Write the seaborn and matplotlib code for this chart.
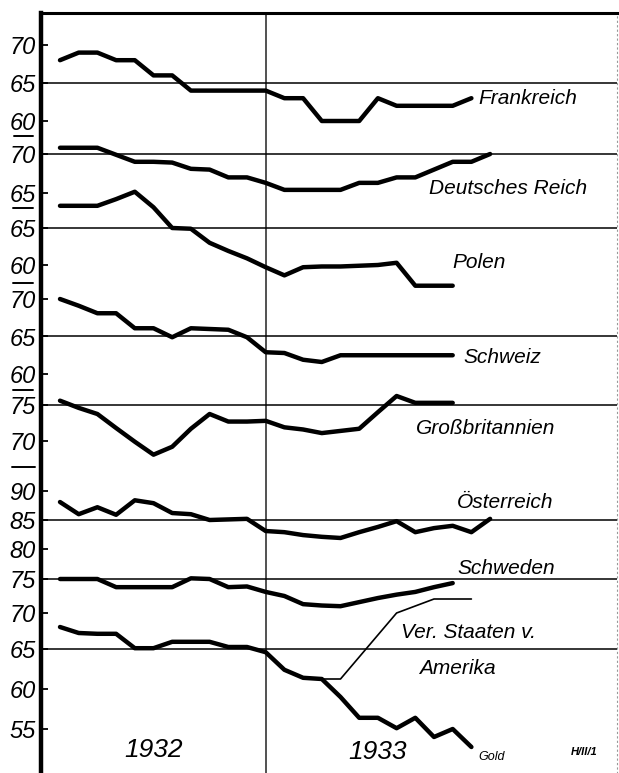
import numpy as np
import pandas as pd
import matplotlib
matplotlib.use("Agg")
import matplotlib.pyplot as plt
import seaborn as sns
from matplotlib import font_manager
from matplotlib.lines import Line2D

# ---------------- data (monthly index: 0 = Jan 1932 ... 23 = Dec 1933) -------------
france_x = list(range(23))
france_y = [68, 69, 69, 68, 68, 66, 66, 64, 64, 64, 64, 64, 63, 63, 60, 60, 60, 63, 62, 62, 62, 62, 63]

germany_x = list(range(24))
germany_y = [70.8, 70.8, 70.8, 69.9, 69, 69, 68.9, 68.1, 68, 67, 67, 66.3, 65.4, 65.4, 65.4, 65.4,
             66.3, 66.3, 67, 67, 68, 69, 69, 70]

poland_x = list(range(22))
poland_y = [68, 68, 68, 68.9, 69.9, 67.8, 65, 64.9, 63, 61.9, 60.9, 59.7, 58.6, 59.7, 59.8, 59.8,
            59.9, 60, 60.3, 57.2, 57.2, 57.2]

swiss_x = list(range(22))
swiss_y = [70, 69.1, 68.1, 68.1, 66.1, 66.1, 64.9, 66.1, 66, 65.9, 64.9, 62.9, 62.8, 61.9, 61.6, 62.5,
           62.5, 62.5, 62.5, 62.5, 62.5, 62.5]

gb_x = list(range(22))
gb_y = [75.6, 74.6, 73.75, 71.8, 69.9, 68.1, 69.2, 71.7, 73.75, 72.7, 72.7, 72.8, 71.9, 71.6, 71.1, 71.4,
        71.7, 74, 76.25, 75.3, 75.3, 75.3]

austria_x = list(range(24))
austria_y = [88.1, 86, 87.2, 85.9, 88.4, 87.9, 86.2, 86, 85, 85.1, 85.2, 83.1, 82.9, 82.4, 82.1, 81.9,
             82.9, 83.8, 84.8, 82.9, 83.6, 84, 82.9, 85.2]

sweden_x = list(range(22))
sweden_y = [75, 75, 75, 73.8, 73.8, 73.8, 73.8, 75.1, 75, 73.8, 73.9, 73.1, 72.5, 71.3, 71.1, 71,
            71.6, 72.2, 72.7, 73.1, 73.8, 74.4]

usa_gold_x = list(range(23))
usa_gold_y = [67.75, 67, 66.9, 66.9, 65.1, 65.1, 65.9, 65.9, 65.9, 65.25, 65.25, 64.6, 62.4, 61.4, 61.25,
              59, 56.4, 56.4, 55.1, 56.4, 54, 55, 52.75]

usa_paper_x = [14, 15, 18, 20, 22]
usa_paper_y = [61.25, 61.25, 69.5, 71.25, 71.25]

# ---------------- style ----------------
sns.set_theme(style="white")
available = {f.name for f in font_manager.fontManager.ttflist}
FONT = "DejaVu Sans"
for cand in ["Liberation Sans Narrow", "DejaVu Sans Condensed", "Liberation Sans"]:
    if cand in available:
        FONT = cand
        break
plt.rcParams["font.family"] = [FONT, "DejaVu Sans"]

W, H = 619, 773
fig = plt.figure(figsize=(W / 100, H / 100), dpi=100)
fig.patch.set_facecolor("white")

AX_L, AX_R, AX_T, AX_B = 41, 617, 13, 773
X0_PX, DX_PX = 60, 18.7
XLIM = ((AX_L - X0_PX) / DX_PX, (AX_R - X0_PX) / DX_PX)
RECT = [AX_L / W, 1 - AX_B / H, (AX_R - AX_L) / W, (AX_B - AX_T) / H]


def make_panel(ref, ticks, refline):
    (v1, p1), (v2, p2) = ref
    s = (v1 - v2) / (p2 - p1)
    top = v1 + (p1 - AX_T) * s
    bot = v1 - (AX_B - p1) * s
    ax = fig.add_axes(RECT)
    ax.set_xlim(*XLIM)
    ax.set_ylim(bot, top)
    ax.patch.set_alpha(0)
    for sp in ax.spines.values():
        sp.set_visible(False)
    ax.set_xticks([])
    ax.set_yticks(ticks, [str(t) for t in ticks])
    ax.tick_params(axis="y", left=True, direction="in", length=5, width=1.3,
                   labelsize=17, pad=4, colors="black")
    for lab in ax.get_yticklabels():
        lab.set_fontstyle("italic")
    ax.set_xlabel("")
    ax.set_ylabel("")
    ax.grid(False)
    ax.axhline(refline, color="black", lw=1.1, zorder=1)
    return ax


# base frame
base = fig.add_axes(RECT)
base.set_xlim(*XLIM)
base.set_ylim(0, 1)
base.set_xticks([])
base.set_yticks([])
base.patch.set_alpha(0)
base.spines["left"].set_linewidth(3.2)
base.spines["top"].set_linewidth(2.2)
base.spines["bottom"].set_visible(False)
base.spines["right"].set_linewidth(0.8)
base.spines["right"].set_linestyle((0, (1, 3)))
base.spines["right"].set_color("#999999")
for k in ["left", "top"]:
    base.spines[k].set_color("black")
base.axvline(11, color="#333333", lw=1.2)

LW = 3.2
panels = [
    (((70, 45), (60, 121)), [70, 65, 60], 65, france_x, france_y),
    (((70, 154), (65, 193)), [70, 65], 70, germany_x, germany_y),
    (((65, 228), (60, 265)), [65, 60], 65, poland_x, poland_y),
    (((70, 299), (60, 374)), [70, 65, 60], 65, swiss_x, swiss_y),
    (((75, 405), (70, 441)), [75, 70], 75, gb_x, gb_y),
    (((90, 491), (80, 549)), [90, 85, 80], 85, austria_x, austria_y),
    (((75, 579), (70, 613)), [75, 70], 75, sweden_x, sweden_y),
    (((65, 649), (55, 729)), [65, 60, 55], 65, usa_gold_x, usa_gold_y),
]
axes = []
for ref, ticks, refline, xs, ys in panels:
    ax = make_panel(ref, ticks, refline)
    df = pd.DataFrame({"x": xs, "y": ys})
    sns.lineplot(data=df, x="x", y="y", ax=ax, color="black", linewidth=LW,
                 solid_joinstyle="round", solid_capstyle="round", zorder=3)
    ax.set_xlabel("")
    ax.set_ylabel("")
    axes.append(ax)

ax_us = axes[-1]
sns.lineplot(x=usa_paper_x, y=usa_paper_y, ax=ax_us, color="black", linewidth=1.2, zorder=2)
ax_us.set_xlabel("")
ax_us.set_ylabel("")

# separator dashes under tick labels (figure pixel positions)
for (y, x0, x1) in [(136, 14, 33), (208, 13, 33), (283, 13, 33), (390, 13, 33), (467, 12, 35)]:
    fig.add_artist(Line2D([x0 / W, x1 / W], [1 - y / H, 1 - y / H], color="black", lw=1.4,
                          transform=fig.transFigure))


def ftext(x, y, s, size, **kw):
    fig.text(x / W, 1 - y / H, s, fontsize=size, style="italic", color="black", **kw)


ftext(478, 98, "Frankreich", 15, ha="left", va="center")
ftext(429, 188, "Deutsches Reich", 15, ha="left", va="center")
ftext(452, 263, "Polen", 15, ha="left", va="center")
ftext(463, 358, "Schweiz", 15, ha="left", va="center")
ftext(416, 428, "Großbritannien", 15, ha="left", va="center")
ftext(457, 502, "Österreich", 15, ha="left", va="center")
ftext(457, 568, "Schweden", 15, ha="left", va="center")
ftext(401, 633, "Ver. Staaten v.", 15, ha="left", va="center")
ftext(419, 668, "Amerika", 15, ha="left", va="center")
ftext(478, 757, "Gold", 9, ha="left", va="center")
ftext(154, 750, "1932", 19, ha="center", va="center")
ftext(378, 752, "1933", 19, ha="center", va="center")
ftext(584, 752, "H/II/1", 8, ha="center", va="center", weight="bold")

fig.savefig("out.png", dpi=100, facecolor="white")
